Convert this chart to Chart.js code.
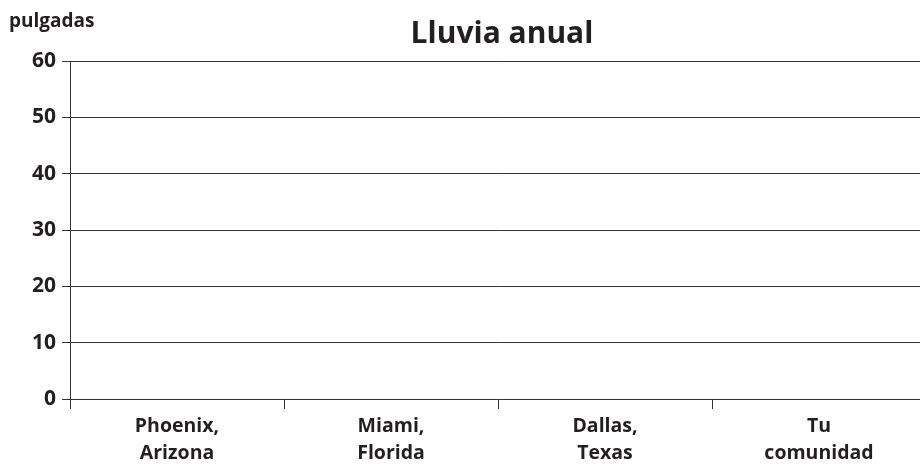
<!DOCTYPE html>
<html>
<head>
<meta charset="utf-8">
<script src="https://cdn.jsdelivr.net/npm/chart.js@4/dist/chart.umd.min.js"></script>
<style>
    html, body { margin: 0; padding: 0; background: #fff; overflow: hidden; }
    #wrap { width: 926px; height: 466px; }
</style>
</head>
<body>
<div id="wrap"><canvas id="rainChart"></canvas></div>
<script>
const cities = [['Phoenix,', 'Arizona'], ['Miami,', 'Florida'], ['Dallas,', 'Texas'], ['Tu', 'comunidad']];
const rainfall = [null, null, null, null];   // the chart is left blank to be filled in
const yMin = 0;
const yMax = 60;
const yStep = 10;
const titleText = 'Lluvia anual';
const unitText = 'pulgadas';

const ink = '#231f20';
const lineColor = '#333333';
const fontFamily = '"Open Sans", "Noto Sans", sans-serif';

// draws the title and the unit label above the plot
const headerPlugin = {
    id: 'header',
    afterDraw(chart) {
        const ctx = chart.ctx;
        ctx.save();
        ctx.fillStyle = ink;
        ctx.textBaseline = 'middle';
        ctx.font = `bold 30px ${fontFamily}`;
        ctx.textAlign = 'center';
        ctx.fillText(titleText, 502, 34);
        ctx.font = `bold 19px ${fontFamily}`;
        ctx.textAlign = 'left';
        ctx.fillText(unitText, 9, 22);
        ctx.restore();
    }
};

const ctx = document.getElementById('rainChart').getContext('2d');
new Chart(ctx, {
    type: 'bar',
    data: {
        labels: cities,
        datasets: [{
            label: titleText,
            data: rainfall,
            backgroundColor: '#888'
        }]
    },
    options: {
        responsive: true,
        maintainAspectRatio: false,
        animation: false,
        layout: {
            padding: { top: 61, right: 0, bottom: 0, left: 0 }
        },
        scales: {
            x: {
                grid: {
                    offset: true,
                    drawOnChartArea: false,
                    drawTicks: true,
                    tickLength: 10,
                    color: lineColor,
                    lineWidth: 1
                },
                border: { display: true, color: lineColor, width: 1 },
                ticks: {
                    color: ink,
                    font: { family: fontFamily, size: 19.5, weight: 'bold', lineHeight: 1.38 },
                    padding: 4,
                    maxRotation: 0,
                    autoSkip: false
                },
                afterFit(scale) { scale.height = 67; }
            },
            y: {
                min: yMin,
                max: yMax,
                grid: {
                    color: lineColor,
                    lineWidth: 1,
                    drawTicks: true,
                    tickLength: 8
                },
                border: { display: true, color: lineColor, width: 1 },
                ticks: {
                    stepSize: yStep,
                    color: ink,
                    font: { family: fontFamily, size: 21, weight: 'bold' },
                    padding: 6
                },
                afterFit(scale) { scale.width = 70; }
            }
        },
        plugins: {
            legend: { display: false },
            title: { display: false },
            tooltip: { enabled: false }
        }
    },
    plugins: [headerPlugin]
});
</script>
</body>
</html>
